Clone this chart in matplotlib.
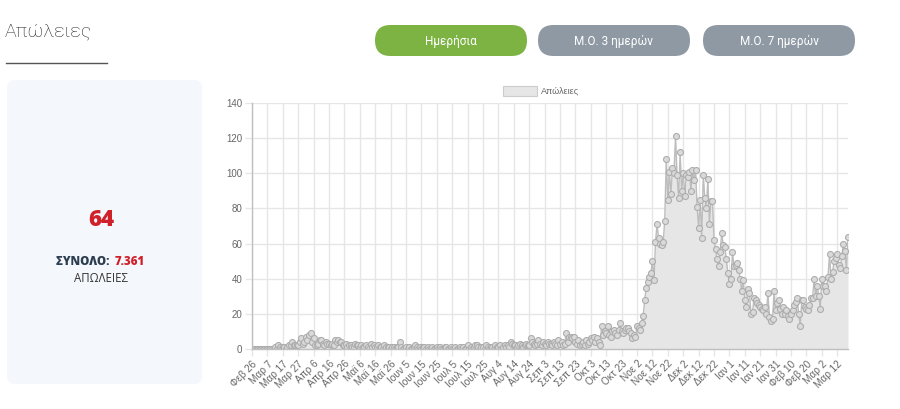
import matplotlib
matplotlib.use("Agg")
import matplotlib.pyplot as plt
from matplotlib.patches import FancyBboxPatch, Rectangle
import numpy as np

# ---------------- data ----------------
deaths_feb_mar = [0]*15 + [1, 0, 2, 1, 0, 1, 1, 0, 1, 2, 2]
deaths_spring = [4, 2, 2, 2, 2, 4, 6, 3, 4, 7,
                 5, 8, 9, 4, 6, 2, 2, 3, 5, 5,
                 3, 2, 4, 3, 3, 2, 3, 2, 5, 4,
                 5, 4, 4, 2, 2, 3, 1, 2, 2, 1,
                 1, 3, 2, 2, 1, 2, 1, 1, 2, 1,
                 0, 3, 1, 2, 1, 1, 2, 1, 1, 0,
                 2, 1, 1, 1, 0, 1, 1, 0, 1, 1]
deaths_summer = [4, 1, 0, 0, 1, 0, 1, 0, 0, 1,
                 2, 1, 0, 1, 0, 1, 1, 0, 1, 0,
                 0, 1, 0, 0, 1, 0, 1, 0, 0, 1,
                 1, 0, 0, 1, 0, 0, 1, 0, 0, 1,
                 0, 1, 0, 0, 2, 0, 1, 0, 1, 2,
                 2, 1, 0, 1, 1, 0, 2, 1, 0, 1,
                 1, 0, 2, 1, 1, 2, 0, 1, 2, 1,
                 2, 1, 4, 3, 2, 2, 1, 2, 3, 2,
                 1, 2, 3, 2, 2, 6, 4, 3, 2, 3,
                 5, 3, 2, 4, 3, 2, 4, 3]
deaths_autumn = [3, 2, 4, 3, 2, 5, 3, 4, 2, 3,
                 9, 4, 7, 7, 6, 7, 4, 3, 5, 2,
                 3, 4, 2, 5, 3, 4, 6, 5, 7, 4,
                 6, 4, 2, 13, 8, 10, 9, 13, 8, 7,
                 10, 11, 9, 8, 11, 15, 10, 9, 11, 12,
                 12, 10, 9, 6, 8, 7, 13, 12, 11, 15,
                 19, 28, 35, 38, 41, 43, 50, 39, 61, 71,
                 63, 60, 59, 61, 73, 108, 85, 101, 88, 103,
                 100, 121, 99, 86, 112, 90, 100, 87, 99, 98,
                 101, 90, 102, 96, 102, 81, 69, 85, 63, 99]
deaths_winter = [86, 80, 97, 71, 84, 84, 62, 57, 51, 47,
                 55, 66, 59, 58, 51, 43, 37, 40, 55, 47,
                 48, 49, 45, 40, 33, 39, 28, 24, 34, 32,
                 20, 21, 29, 28, 26, 25, 24, 23, 22, 24,
                 20, 32, 18, 16, 17, 33, 22, 26, 28, 23,
                 20, 24, 20, 22, 19, 17, 20, 22, 25, 27,
                 29, 20, 13, 28, 28, 24, 23, 22, 25, 29,
                 29, 40, 30, 36, 30, 23, 40, 36, 36, 33,
                 41, 54, 40, 44, 50, 52, 54, 48, 46, 53,
                 60, 56, 45, 64]
deaths = deaths_feb_mar + deaths_spring + deaths_summer + deaths_autumn + deaths_winter

tick_labels = ["Φεβ 26", "Μαρ 7", "Μαρ 17", "Μαρ 27", "Απρ 6", "Απρ 16", "Απρ 26",
               "Μαϊ 6", "Μαϊ 16", "Μαϊ 26", "Ιουν 5", "Ιουν 15", "Ιουν 25",
               "Ιουλ 5", "Ιουλ 15", "Ιουλ 25", "Αυγ 4", "Αυγ 14", "Αυγ 24",
               "Σεπ 3", "Σεπ 13", "Σεπ 23", "Οκτ 3", "Οκτ 13", "Οκτ 23",
               "Νοε 2", "Νοε 12", "Νοε 22", "Δεκ 2", "Δεκ 12", "Δεκ 22",
               "Ιαν 1", "Ιαν 11", "Ιαν 21", "Ιαν 31", "Φεβ 10", "Φεβ 20",
               "Μαρ 2", "Μαρ 12"]
tick_step = 10
y_ticks = [0, 20, 40, 60, 80, 100, 120, 140]

title = "Απώλειες"
buttons = ["Ημερήσια", "Μ.Ο. 3 ημερών", "Μ.Ο. 7 ημερών"]
latest_value = "64"
total_label = "ΣΥΝΟΛΟ: "
total_value = "7.361"
unit_label = "ΑΠΩΛΕΙΕΣ"
legend_label = "Απώλειες"

# ---------------- figure ----------------
W, H = 900, 409
fig = plt.figure(figsize=(W/100, H/100), dpi=100)
fig.patch.set_facecolor("white")

bg = fig.add_axes([0, 0, 1, 1], zorder=0)
bg.set_xlim(0, W)
bg.set_ylim(H, 0)
bg.axis("off")

# title + underline
bg.text(5, 32, title, fontsize=14, family="Roboto", fontweight="light",
        color="#222222", va="center", ha="left")
bg.plot([6, 107], [63, 63], color="#555555", lw=1)

# buttons
btn_x = [375, 538, 703]
btn_colors = ["#7cb342", "#8e99a4", "#8e99a4"]
for bx, lab, col in zip(btn_x, buttons, btn_colors):
    p = FancyBboxPatch((bx, 25), 152, 31, boxstyle="round,pad=0,rounding_size=15.5",
                       facecolor=col, edgecolor="none")
    bg.add_patch(p)
    bg.text(bx + 76, 41, lab, fontsize=8.5, family="Roboto",
            color="white", ha="center", va="center")

# left panel
panel = FancyBboxPatch((7, 80), 195, 304, boxstyle="round,pad=0,rounding_size=8",
                       facecolor="#f4f7fb", edgecolor="none")
bg.add_patch(panel)
bg.text(101, 220, latest_value, fontsize=16, family="Open Sans", fontweight="heavy",
        color="#d0212b", ha="center", va="center")
bg.text(113, 262, total_label, fontsize=8.3, family="Open Sans", fontweight="heavy",
        color="#2c3e50", ha="right", va="center")
bg.text(115, 262, total_value, fontsize=8.3, family="Open Sans", fontweight="heavy",
        color="#d0212b", ha="left", va="center")
bg.text(101, 279, unit_label, fontsize=8.3, family="Open Sans",
        color="#333333", ha="center", va="center")

# legend
bg.add_patch(Rectangle((503, 86), 34, 10, facecolor="#e6e6e6", edgecolor="#cccccc", lw=0.8))
bg.text(541, 91, legend_label, fontsize=6.5, family="Liberation Sans", color="#666666",
        ha="left", va="center")

# chart axes
L, R, T, B = 252, 848, 103, 349
ax = fig.add_axes([L/W, 1 - B/H, (R - L)/W, (B - T)/H], zorder=1)
ax.set_facecolor("none")
x = np.arange(len(deaths))
ax.fill_between(x, 0, deaths, color="#e6e6e6", lw=0, zorder=1)
ax.plot(x, deaths, color="#bdbdbd", lw=1, zorder=2,
        marker="o", ms=4.3, markerfacecolor="#dadada", markeredgecolor="#adadad", mew=0.8)
ax.set_xlim(0, len(deaths) - 1)
ax.set_ylim(0, 140)
ax.set_yticks(y_ticks)
ax.set_yticklabels([str(v) for v in y_ticks])
xt = [i * tick_step for i in range(len(tick_labels))]
ax.set_xticks(xt)
ax.set_xticklabels(tick_labels, rotation=45, ha="right", rotation_mode="anchor")
for lab in ax.get_xticklabels():
    lab.set_family("Liberation Sans")
    lab.set_fontsize(7.2)
    lab.set_color("#666666")
for lab in ax.get_yticklabels():
    lab.set_family("Liberation Sans")
    lab.set_fontsize(7)
    lab.set_color("#666666")
ax.tick_params(axis="both", length=5, width=1, color="#e6e6e6", pad=2)
ax.grid(True, color="#e6e6e6", lw=1, zorder=0)
ax.set_axisbelow(True)
for s in ["top", "right"]:
    ax.spines[s].set_visible(False)
for s in ["left", "bottom"]:
    ax.spines[s].set_color("#bfbfbf")
    ax.spines[s].set_linewidth(1)

fig.savefig("out.png", dpi=100)
